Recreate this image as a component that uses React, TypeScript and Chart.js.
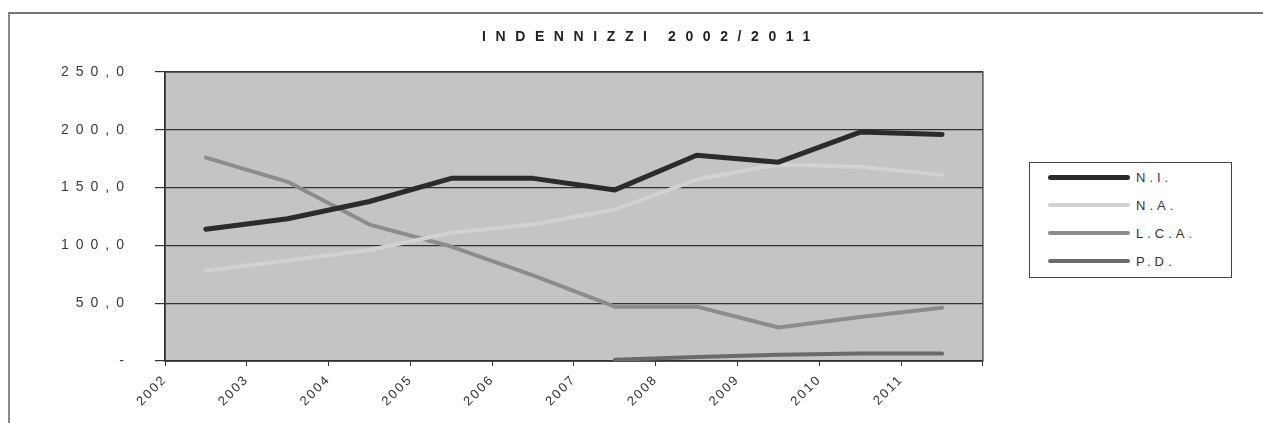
import React, { useEffect, useRef } from "react";
import { Chart, registerables } from "chart.js";

Chart.register(...registerables);

const years = ["2002", "2003", "2004", "2005", "2006", "2007", "2008", "2009", "2010", "2011"];
const seriesNames = ["N.I.", "N.A.", "L.C.A.", "P.D."];
const niValues = [114, 123, 138, 158, 158, 148, 178, 172, 198, 196];
const naValues = [78, 87, 96, 111, 118, 131, 157, 170, 168, 161];
const lcaValues = [176, 155, 118, 99, 74, 47, 47, 29, 38, 46];
const pdValues: (number | null)[] = [null, null, null, null, null, 1, 3.5, 5.5, 6.4, 6.4];
const yTicks = [0, 50, 100, 150, 200, 250];

const colors = ["#2b2b2b", "#d2d2d2", "#8c8c8c", "#6a6a6a"];
const widths = [5, 4, 4, 4];

const FONT = "'Liberation Sans', Arial, sans-serif";

const plotBg = {
  id: "plotBg",
  beforeDraw(chart: any) {
    const { ctx, chartArea } = chart;
    ctx.save();
    ctx.fillStyle = "#c4c4c4";
    ctx.fillRect(chartArea.left, chartArea.top, chartArea.right - chartArea.left, chartArea.bottom - chartArea.top);
    ctx.restore();
  },
  beforeDatasetsDraw(chart: any) {
    const { ctx, chartArea } = chart;
    ctx.save();
    ctx.strokeStyle = "#3a3a3a";
    ctx.lineWidth = 1.2;
    ctx.strokeRect(chartArea.left, chartArea.top, chartArea.right - chartArea.left, chartArea.bottom - chartArea.top);
    ctx.restore();
  },
};

const spacing = {
  id: "labelSpacing",
  afterUpdate(chart: any) {
    const map: [string, string][] = [["y", "7px"], ["x", "2px"]];
    for (const [id, ls] of map) {
      const s: any = chart.scales[id];
      if (s && !s.__wrapped) {
        const orig = s.drawLabels.bind(s);
        s.drawLabels = (area: any) => {
          const c: any = chart.ctx;
          c.save();
          c.letterSpacing = ls;
          orig(area);
          c.restore();
        };
        s.__wrapped = true;
      }
    }
  },
};

function toPoints(vals: (number | null)[]) {
  return vals.map((v, i) => ({ x: i + 0.5, y: v }));
}

export default function App() {
  const ref = useRef<HTMLCanvasElement | null>(null);

  useEffect(() => {
    if (!ref.current) return;
    const all = [niValues, naValues, lcaValues, pdValues];
    const chart = new Chart(ref.current, {
      type: "line",
      data: {
        datasets: all.map((vals, k) => ({
          label: seriesNames[k],
          data: toPoints(vals) as any,
          borderColor: colors[k],
          backgroundColor: colors[k],
          borderWidth: widths[k],
          pointRadius: 0,
          tension: 0,
          borderCapStyle: "round",
          borderJoinStyle: "round",
          spanGaps: false,
        })),
      },
      plugins: [plotBg, spacing],
      options: {
        animation: false,
        responsive: false,
        layout: { padding: { top: 72, right: 14, left: 0, bottom: 0 } },
        plugins: {
          legend: { display: false },
          title: { display: false },
          tooltip: { enabled: false },
        },
        scales: {
          x: {
            type: "linear",
            min: 0,
            max: years.length,
            afterFit: (s: any) => {
              s.height = 62;
            },
            afterBuildTicks: (s: any) => {
              s.ticks = years.map((_, i) => ({ value: i })).concat([{ value: years.length }]);
            },
            ticks: {
              minRotation: 45,
              maxRotation: 45,
              autoSkip: false,
              padding: 6,
              color: "#333",
              font: { family: FONT, size: 13 },
              callback: (v: any) => years[Number(v)] ?? "",
            },
            grid: {
              drawOnChartArea: false,
              drawTicks: true,
              tickLength: 5,
              color: "#333",
              lineWidth: 1,
            },
            border: { display: true, color: "#222", width: 1.5 },
          },
          y: {
            type: "linear",
            min: 0,
            max: 250,
            afterFit: (s: any) => {
              s.width = 165;
            },
            afterBuildTicks: (s: any) => {
              s.ticks = yTicks.map((v) => ({ value: v }));
            },
            ticks: {
              padding: 24,
              color: "#3a3a3a",
              font: { family: FONT, size: 14 },
              callback: (v: any) => (Number(v) === 0 ? "-" : Number(v).toFixed(1).replace(".", ",")),
            },
            grid: {
              drawOnChartArea: true,
              drawTicks: true,
              tickLength: 10,
              color: "#333",
              lineWidth: 1.2,
            },
            border: { display: true, color: "#222", width: 1.5 },
          },
        },
      },
    });
    return () => chart.destroy();
  }, []);

  return (
    <div style={{ position: "absolute", left: 0, top: 0, width: 1263, height: 423, background: "#fff", overflow: "hidden", fontFamily: FONT }}>
      <div style={{ position: "absolute", left: 8, top: 12, width: 1255, height: 420, borderTop: "2px solid #777", borderLeft: "2px solid #888" }} />
      <canvas ref={ref} width={1000} height={423} style={{ position: "absolute", left: 0, top: 0, width: 1000, height: 423 }} />
      <div style={{ position: "absolute", left: 482, top: 28, fontSize: 14, fontWeight: "bold", letterSpacing: "9.6px", wordSpacing: "-2px", color: "#222", whiteSpace: "nowrap" }}>
        INDENNIZZI 2002/2011
      </div>
      <div style={{ position: "absolute", left: 1029, top: 162, width: 203, height: 116, border: "1px solid #444", boxSizing: "border-box" }}>
        {seriesNames.map((name, k) => (
          <div key={name} style={{ position: "absolute", left: 18, top: 5 + k * 28, height: 18, display: "flex", alignItems: "center" }}>
            <div style={{ width: 82, height: widths[k], background: colors[k], borderRadius: 3 }} />
            <span style={{ marginLeft: 6, fontSize: 13, letterSpacing: "4px", color: "#333" }}>{name}</span>
          </div>
        ))}
      </div>
    </div>
  );
}
